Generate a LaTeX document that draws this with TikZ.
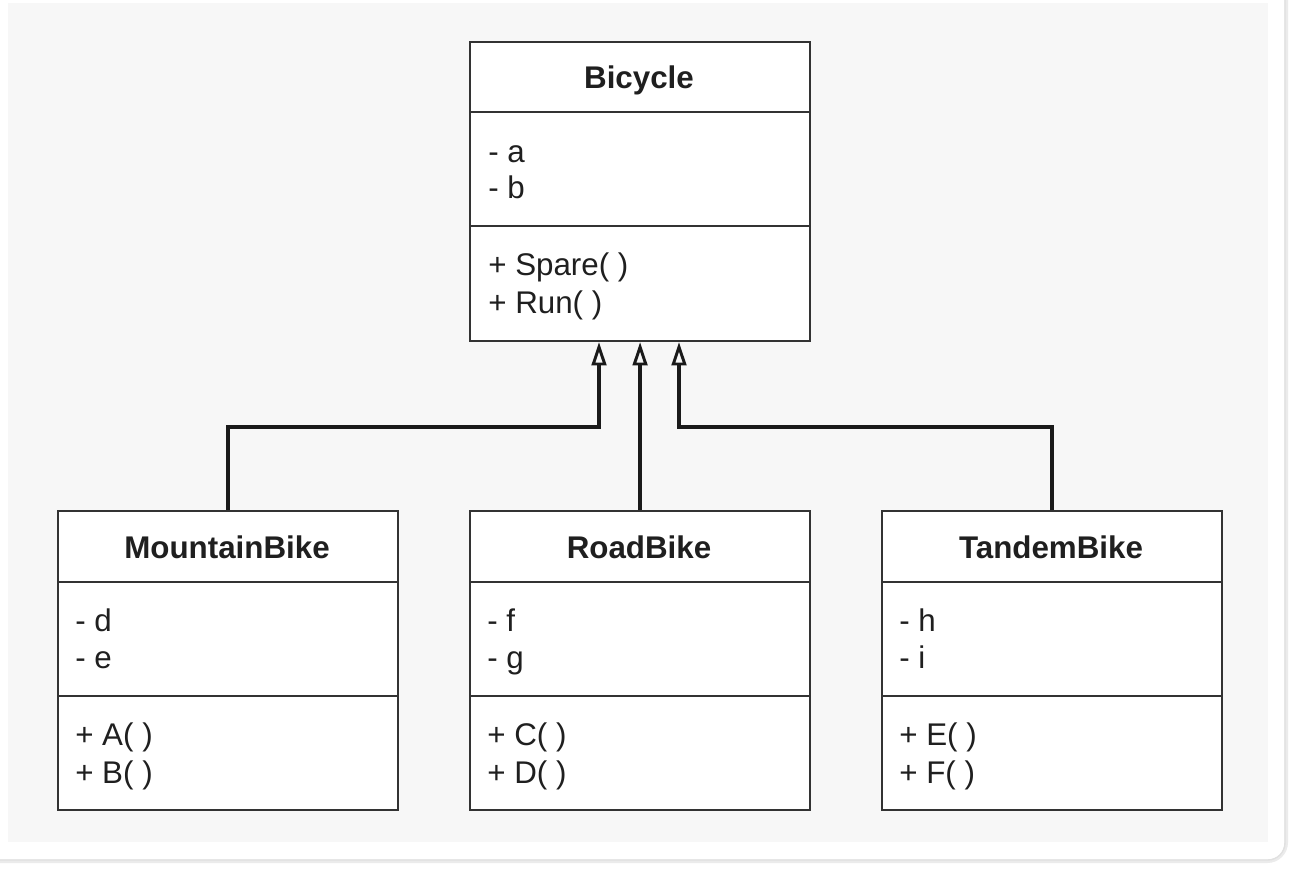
\documentclass[tikz,border=0pt]{standalone}
\usepackage{fontspec}
\setmainfont{Liberation Sans}
\usetikzlibrary{arrows.meta,calc}
\definecolor{panel}{HTML}{F7F7F7}
\definecolor{boxline}{HTML}{333333}
\definecolor{conline}{HTML}{1A1A1A}
\begin{document}
\begin{tikzpicture}[x=0.75pt,y=-0.75pt,
  classbox/.style={draw=boxline,line width=1.6pt,fill=white,rectangle,inner sep=0pt,minimum width=340*0.75pt,minimum height=299*0.75pt,anchor=north west},
  divider/.style={draw=boxline,line width=1.4pt},
  title/.style={font=\fontsize{23.5}{27}\selectfont\bfseries,anchor=base,inner sep=0pt,text=black!88},
  member/.style={font=\fontsize{23.5}{27}\selectfont,anchor=base west,inner sep=0pt,text=black!88},
  inh/.style={draw=conline,line width=2.6pt,-{Triangle[open,length=17.5pt,width=11pt,line width=2.2pt]}}
]
\useasboundingbox (0,0) rectangle (1294,868);
\fill[white] (0,0) rectangle (1294,868);
\draw[black!8,line width=3pt,rounded corners=14] (-30,-30) rectangle (1286,861);
\draw[black!12,line width=1pt,rounded corners=13] (-30,-30) rectangle (1285,860);
\fill[white,rounded corners=12] (-30,-30) rectangle (1284,859);
\fill[panel] (8,3) rectangle (1268,842);

% Bicycle
\node[classbox] (bic) at (469,41) {};
\draw[divider] (469,112) -- (809,112);
\draw[divider] (469,226) -- (809,226);
\node[title] (bict) at (639,88) {Bicycle};
\node[member] (bica) at (488,162) {- a};
\node[member] (bicb) at (488,198) {- b};
\node[member] (bicm1) at (488,275) {+ Spare( )};
\node[member] (bicm2) at (488,313) {+ Run( )};

% MountainBike
\node[classbox] (mb) at (57,510) {};
\draw[divider] (57,582) -- (397,582);
\draw[divider] (57,696) -- (397,696);
\node[title] (mbt) at (227,558) {MountainBike};
\node[member] (mba) at (75,631) {- d};
\node[member] (mbb) at (75,668) {- e};
\node[member] (mbm1) at (75,745) {+ A( )};
\node[member] (mbm2) at (75,783) {+ B( )};

% RoadBike
\node[classbox] (rb) at (469,510) {};
\draw[divider] (469,582) -- (809,582);
\draw[divider] (469,696) -- (809,696);
\node[title] (rbt) at (639,558) {RoadBike};
\node[member] (rba) at (487,631) {- f};
\node[member] (rbb) at (487,668) {- g};
\node[member] (rbm1) at (487,745) {+ C( )};
\node[member] (rbm2) at (487,783) {+ D( )};

% TandemBike
\node[classbox] (tb) at (881,510) {};
\draw[divider] (881,582) -- (1221,582);
\draw[divider] (881,696) -- (1221,696);
\node[title] (tbt) at (1051,558) {TandemBike};
\node[member] (tba) at (899,631) {- h};
\node[member] (tbb) at (899,668) {- i};
\node[member] (tbm1) at (899,745) {+ E( )};
\node[member] (tbm2) at (899,783) {+ F( )};

% inheritance connectors
\coordinate (jl) at (599,427);
\coordinate (jr) at (679,427);
\draw[inh] (mb.north) |- (jl) -- (jl |- bic.south);
\draw[inh] (rb.north) -- (bic.south);
\draw[inh] (tb.north) |- (jr) -- (jr |- bic.south);
\end{tikzpicture}
\end{document}
